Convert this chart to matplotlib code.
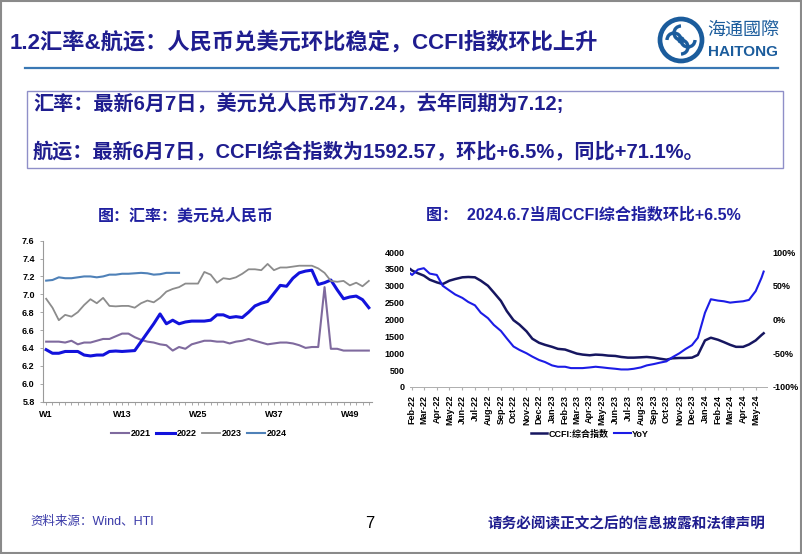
import numpy as np
import pandas as pd
import matplotlib
matplotlib.use("Agg")
import matplotlib.pyplot as plt
import matplotlib.dates as mdates
from matplotlib.patches import Rectangle, Circle, Arc
from matplotlib.ticker import FuncFormatter, MultipleLocator

plt.rcParams['font.family'] = ['Liberation Sans', 'Noto Sans CJK SC', 'DejaVu Sans']

# left chart: USD/CNY by week of year
weeks = list(range(1, 53))
usdcny_2021 = [6.47, 6.47, 6.47, 6.46, 6.48, 6.44, 6.46, 6.46, 6.48, 6.50,
               6.50, 6.53, 6.56, 6.56, 6.52, 6.49, 6.47, 6.46, 6.44, 6.43,
               6.37, 6.41, 6.39, 6.44, 6.46, 6.48, 6.48, 6.47, 6.47, 6.45,
               6.47, 6.48, 6.50, 6.48, 6.46, 6.44, 6.45, 6.46, 6.46, 6.45,
               6.43, 6.40, 6.41, 6.41, 7.08, 6.39, 6.39, 6.37, 6.37, 6.37,
               6.37, 6.37]
usdcny_2022 = [6.38, 6.34, 6.34, 6.36, 6.36, 6.36, 6.32, 6.31, 6.32, 6.32,
               6.36, 6.365, 6.36, 6.365, 6.37, 6.47, 6.57, 6.67, 6.78, 6.67,
               6.71, 6.67, 6.69, 6.70, 6.70, 6.70, 6.71, 6.77, 6.77, 6.74,
               6.75, 6.74, 6.80, 6.87, 6.90, 6.92, 7.01, 7.10, 7.09, 7.18,
               7.24, 7.26, 7.27, 7.11, 7.13, 7.16, 7.05, 6.95, 6.97, 6.98,
               6.94, 6.85]
usdcny_2023 = [6.95, 6.85, 6.71, 6.77, 6.75, 6.80, 6.88, 6.945, 6.90, 6.96,
               6.87, 6.865, 6.87, 6.87, 6.85, 6.90, 6.93, 6.91, 6.96, 7.03,
               7.06, 7.08, 7.12, 7.12, 7.12, 7.25, 7.22, 7.13, 7.18, 7.17,
               7.19, 7.23, 7.28, 7.28, 7.27, 7.34, 7.27, 7.30, 7.30, 7.31,
               7.32, 7.32, 7.32, 7.29, 7.24, 7.15, 7.14, 7.15, 7.10, 7.13,
               7.09, 7.15]
usdcny_2024 = [7.153, 7.16, 7.19, 7.18, 7.18, 7.19, 7.20, 7.20, 7.19, 7.20,
               7.22, 7.22, 7.23, 7.23, 7.235, 7.24, 7.235, 7.22, 7.225, 7.24,
               7.24, 7.24]
week_ticks = [1, 13, 25, 37, 49]

# right chart: CCFI composite index and YoY
ccfi_dates = (['2022-01-28']
              + [d.strftime('%Y-%m-%d') for d in pd.date_range('2022-02-01', '2024-05-16', freq='SMS')]
              + ['2024-05-20'])
ccfi = [3490, 3450, 3370, 3300, 3180, 3100, 3050, 3150, 3200, 3250,
        3260, 3250, 3150, 3000, 2800, 2550, 2250, 1980, 1850, 1650,
        1430, 1310, 1250, 1190, 1130, 1110, 1050, 990, 960, 940,
        960, 950, 930, 920, 890, 870, 870, 880, 890, 870,
        840, 810, 850, 860, 860, 870, 950, 1380, 1460, 1400,
        1330, 1250, 1190, 1190, 1260, 1380, 1540, 1592]
ccfi_yoy = [0.68, 0.66, 0.74, 0.76, 0.68, 0.66, 0.50, 0.43, 0.37, 0.32,
            0.26, 0.21, 0.10, 0.02, -0.08, -0.17, -0.28, -0.40, -0.45, -0.50,
            -0.55, -0.60, -0.63, -0.68, -0.70, -0.70, -0.72, -0.72, -0.72, -0.71,
            -0.70, -0.71, -0.72, -0.73, -0.74, -0.74, -0.73, -0.71, -0.68, -0.66,
            -0.64, -0.62, -0.56, -0.50, -0.44, -0.38, -0.27, 0.10, 0.30, 0.28,
            0.27, 0.25, 0.26, 0.27, 0.29, 0.42, 0.62, 0.71]

NAVY = '#1f1d8f'
W, H = 802, 554

fig = plt.figure(figsize=(W / 100, H / 100), dpi=100)

# page layer in pixel coordinates
page = fig.add_axes([0, 0, 1, 1])
page.set_xlim(0, W)
page.set_ylim(H, 0)
page.axis('off')

page.add_patch(Rectangle((1, 1), W - 2.5, H - 2.5, fill=False, ec='#8a8a8a', lw=1.5))
page.text(10, 42, '1.2汇率&航运：人民币兑美元环比稳定，CCFI指数环比上升',
          fontsize=16, fontweight='bold', color=NAVY, va='center')
page.plot([25, 778], [68, 68], color='#3a78b4', lw=1.6)

# logo
LOGO = '#1b5c9c'
page.add_patch(Circle((681, 40), 21, fill=False, ec=LOGO, lw=3.4))
for ang in (0, 90, 180, 270):
    page.add_patch(Arc((681 + 7 * np.cos(np.radians(ang)), 40 - 7 * np.sin(np.radians(ang))),
                       14, 14, theta1=ang, theta2=ang + 180, color=LOGO, lw=2.4))
page.add_patch(Circle((681, 40), 3, color=LOGO))
page.text(743, 30, '海通國際', fontsize=13, color=LOGO, ha='center', va='center')
page.text(743, 52, 'HAITONG', fontsize=11, fontweight='bold', color=LOGO, ha='center', va='center')

# summary box
page.add_patch(Rectangle((27, 91), 756, 77, fill=False, ec='#8f8fc8', lw=1))
page.text(33, 104, '汇率：最新6月7日，美元兑人民币为7.24，去年同期为7.12;',
          fontsize=14.5, fontweight='bold', color=NAVY, va='center')
page.text(33, 152, '航运：最新6月7日，CCFI综合指数为1592.57，环比+6.5%，同比+71.1%。',
          fontsize=14.5, fontweight='bold', color=NAVY, va='center')

page.text(186, 215, '图：汇率：美元兑人民币', fontsize=11.5, fontweight='bold',
          color='#2020a0', ha='center', va='center')
page.text(583, 215, '图：  2024.6.7当周CCFI综合指数环比+6.5%', fontsize=11.5, fontweight='bold',
          color='#2020a0', ha='center', va='center')

page.text(30, 522, '资料来源：Wind、HTI', fontsize=9, color='#3a3aa8', va='center')
page.text(370, 524, '7', fontsize=12, color='black', ha='center', va='center')
page.text(765, 524, '请务必阅读正文之后的信息披露和法律声明', fontsize=10.5, fontweight='bold',
          color=NAVY, ha='right', va='center')

# left chart
ax1 = fig.add_axes([43 / W, 1 - 401.5 / H, 329 / W, 160.8 / H])
ax1.plot(weeks, usdcny_2021, color='#7f6a9e', lw=1.5, label='2021')
ax1.plot(weeks, usdcny_2022, color='#1212dc', lw=2.2, label='2022')
ax1.plot(weeks, usdcny_2023, color='#8c8c8c', lw=1.3, label='2023')
ax1.plot(weeks[:len(usdcny_2024)], usdcny_2024, color='#4f81b8', lw=1.5, label='2024')
ax1.set_xlim(0.5, 52.5)
ax1.set_ylim(5.8, 7.6)
ax1.yaxis.set_major_locator(MultipleLocator(0.2))
ax1.yaxis.set_major_formatter(FuncFormatter(lambda v, p: f'{v:.1f}'))
ax1.set_xticks(week_ticks)
ax1.set_xticklabels([f'W{w}' for w in week_ticks])
ax1.set_xticks(weeks, minor=True)
for s in ('top', 'right'):
    ax1.spines[s].set_visible(False)
for s in ('left', 'bottom'):
    ax1.spines[s].set_color('#9a9a9a')
    ax1.spines[s].set_linewidth(0.8)
ax1.tick_params(axis='both', which='both', colors='#9a9a9a', labelcolor='black',
                labelsize=6.5, length=2.5, width=0.6)
for lab in ax1.get_xticklabels() + ax1.get_yticklabels():
    lab.set_fontweight('bold')
ax1.legend(loc='center', bbox_to_anchor=(199 / W, 1 - 434 / H), bbox_transform=fig.transFigure,
           ncol=4, frameon=False, prop={'size': 6.5, 'weight': 'bold'},
           handlelength=2.0, handletextpad=0.2, columnspacing=0.6)

# right chart
x = mdates.date2num(pd.to_datetime(ccfi_dates))
ax2 = fig.add_axes([410 / W, 1 - 387 / H, 357 / W, 135 / H])
l1, = ax2.plot(x, ccfi, color='#161660', lw=1.8, label='CCFI:综合指数')
ax2.set_ylim(0, 4000)
ax2.yaxis.set_major_locator(MultipleLocator(500))
ax2.set_xlim(mdates.date2num(pd.Timestamp('2022-01-27')), mdates.date2num(pd.Timestamp('2024-05-28')))
ax2.xaxis.set_major_locator(mdates.MonthLocator())
ax2.xaxis.set_major_formatter(mdates.DateFormatter('%b-%y'))
ax3 = ax2.twinx()
l2, = ax3.plot(x, ccfi_yoy, color='#1c1ce6', lw=1.5, label='YoY')
ax3.set_ylim(-1, 1)
ax3.yaxis.set_major_locator(MultipleLocator(0.5))
ax3.yaxis.set_major_formatter(FuncFormatter(lambda v, p: f'{v * 100:.0f}%'))
for a in (ax2, ax3):
    for s in ('top', 'left', 'right'):
        a.spines[s].set_visible(False)
    a.spines['bottom'].set_color('#b0b0b0')
    a.spines['bottom'].set_linewidth(0.7)
    a.tick_params(axis='y', length=0, labelsize=6.5, pad=4)
ax2.tick_params(axis='x', labelsize=6.5, rotation=90, length=2, colors='#b0b0b0', labelcolor='black')
for lab in ax2.get_xticklabels() + ax2.get_yticklabels() + ax3.get_yticklabels():
    lab.set_fontweight('bold')
ax2.legend(handles=[l1, l2], loc='center', bbox_to_anchor=(590 / W, 1 - 434 / H),
           bbox_transform=fig.transFigure, ncol=2, frameon=False,
           prop={'size': 6.5, 'weight': 'bold'}, handlelength=1.8, handletextpad=0.2,
           columnspacing=0.6)

fig.savefig('out.png', dpi=100)
